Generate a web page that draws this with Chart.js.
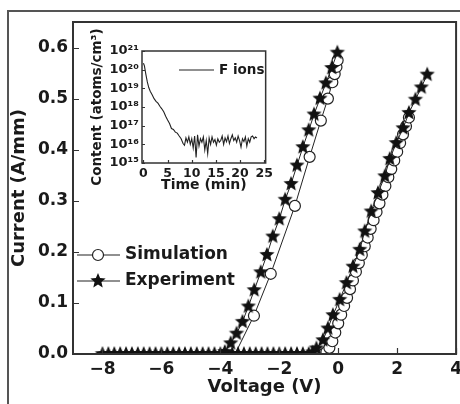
<!DOCTYPE html>
<html lang="en">
<head>
<meta charset="UTF-8">
<title>I-V curves with F ion profile</title>
<style>
  body { margin: 0; background: #fff; }
  #wrap { position: relative; width: 460px; height: 404px; overflow: hidden; }
  #main { position: absolute; left: 0; top: 0; }
  #inset { position: absolute; left: 86px; top: 20px; }
</style>
</head>
<body>
<div id="wrap">
  <canvas id="main" width="467" height="404"></canvas>
  <canvas id="inset" width="190" height="180"></canvas>
</div>
<script src="https://cdn.jsdelivr.net/npm/chart.js@4.4.1/dist/chart.umd.min.js"></script>
<script>
// main plot data (voltage in V, current in A/mm)
const expLeftV = [-8.0, -7.8, -7.6, -7.4, -7.2, -7.0, -6.8, -6.6, -6.4, -6.2, -6.0, -5.8, -5.6, -5.4, -5.2, -5.0, -4.8, -4.6, -4.4, -4.2, -4.0, -3.85,
  -3.65, -3.45, -3.25, -3.05, -2.85, -2.63, -2.42, -2.22, -2.0, -1.8, -1.6, -1.4, -1.2, -1.0, -0.82, -0.62, -0.42, -0.22, -0.03];
const expLeftI = [0, 0, 0, 0, 0, 0, 0, 0, 0, 0, 0, 0, 0, 0, 0, 0, 0, 0, 0, 0, 0, 0.004,
  0.021, 0.040, 0.063, 0.093, 0.125, 0.160, 0.194, 0.230, 0.264, 0.302, 0.333, 0.369, 0.405, 0.438, 0.469, 0.500, 0.530, 0.560, 0.590];

const expRightV = [-3.6, -3.4, -3.2, -3.0, -2.8, -2.6, -2.4, -2.2, -2.0, -1.8, -1.6, -1.4, -1.2, -1.0, -0.87,
  -0.74, -0.52, -0.35, -0.18, 0.05, 0.28, 0.50, 0.73, 0.90, 1.12, 1.35, 1.58, 1.75, 1.97, 2.20, 2.40, 2.62, 2.82, 3.02];
const expRightI = [0, 0, 0, 0, 0, 0, 0, 0, 0, 0, 0, 0, 0, 0, 0.003,
  0.011, 0.027, 0.050, 0.076, 0.106, 0.139, 0.171, 0.204, 0.240, 0.279, 0.315, 0.348, 0.382, 0.413, 0.442, 0.472, 0.498, 0.522, 0.547];

const simLeftV = [-3.5, -2.86, -2.29, -1.47, -0.97, -0.59, -0.35, -0.20, -0.12, -0.06, -0.02];
const simLeftI = [0, 0.075, 0.157, 0.290, 0.386, 0.457, 0.500, 0.532, 0.548, 0.562, 0.575];

const simRightV = [-0.5, -0.4, -0.3, -0.2, -0.1, 0.0, 0.1, 0.2, 0.3, 0.4, 0.5, 0.6, 0.7, 0.8, 0.9, 1.0, 1.1, 1.2, 1.3, 1.4,
  1.5, 1.6, 1.7, 1.8, 1.9, 2.0, 2.1, 2.2, 2.3, 2.4];
const simRightI = [0, 0.004, 0.012, 0.025, 0.042, 0.060, 0.077, 0.094, 0.110, 0.127, 0.144, 0.161, 0.178, 0.194, 0.211, 0.228,
  0.245, 0.262, 0.278, 0.295, 0.312, 0.329, 0.346, 0.362, 0.379, 0.396, 0.413, 0.430, 0.446, 0.463];

const xTicks = [-8, -6, -4, -2, 0, 2, 4];
const yTicks = [0, 0.1, 0.2, 0.3, 0.4, 0.5, 0.6];

// inset: F ion depth profile (time in min, content in atoms/cm3)
const fTime = [0, 0.2, 0.5, 0.8, 1.1, 1.4, 1.8, 2.2, 2.6, 3.0, 3.4, 3.8, 4.2, 4.6, 5.0, 5.4, 5.8, 6.2, 6.6, 7.0,
  7.4, 7.8, 8.2, 8.5, 8.8, 9.1, 9.4, 9.7, 10.0, 10.3, 10.6, 10.9, 11.2, 11.5, 11.8, 12.1, 12.4, 12.7, 13.0, 13.3,
  13.6, 13.9, 14.2, 14.5, 14.8, 15.1, 15.4, 15.7, 16.0, 16.3, 16.6, 16.9, 17.2, 17.5, 17.8, 18.1, 18.4, 18.7, 19.0, 19.3,
  19.6, 19.9, 20.2, 20.5, 20.8, 21.1, 21.4, 21.7, 22.0, 22.3, 22.6, 22.9, 23.2, 23.5];
const fContent = [2.2e20, 1.6e20, 5.6e19, 2.2e19, 1.1e19, 7e18, 4.5e18, 2.8e18, 2e18, 1.6e18, 1.1e18, 8e17, 5.6e17, 3.2e17, 2e17, 1.3e17, 7e16, 6.3e16, 4.5e16, 4e16,
  2.8e16, 2e16, 1.1e16, 9e15, 2.2e16, 1.3e16, 2.5e16, 1e16, 2e16, 6.3e15, 2.8e16, 2e15, 3.2e16, 8e15, 2e16, 1.3e16, 2.5e16, 5e15, 1.6e16, 3.2e15,
  2.2e16, 1e16, 2.5e16, 1.3e16, 1.8e16, 9e15, 2e16, 1.3e16, 1.6e16, 2.8e16, 1e16, 2.2e16, 1.4e16, 2.8e16, 1.1e16, 2e16, 3.2e16, 1.6e16, 2.2e16, 1.3e16,
  2.8e16, 1.6e16, 7e15, 2e16, 1.4e16, 2.5e16, 8e15, 2e16, 1.3e16, 2.5e16, 2.8e16, 2e16, 2.5e16, 2.2e16];

const insetXTicks = [0, 5, 10, 15, 20, 25];
const insetYTicks = [1e15, 1e16, 1e17, 1e18, 1e19, 1e20, 1e21];

const FONT = 'DejaVu Sans';
const INK = '#1a1a1a';
Chart.defaults.font.family = FONT;
Chart.defaults.font.weight = 'bold';
Chart.defaults.color = INK;

function pts(xs, ys) {
  return xs.map((x, k) => ({ x: x, y: ys[k] }));
}

// filled five-pointed star used as point marker
function makeStar(r) {
  var c = document.createElement('canvas');
  var s = Math.ceil(r * 2 + 2);
  c.width = s; c.height = s;
  var g = c.getContext('2d');
  g.fillStyle = '#111';
  g.beginPath();
  for (var k = 0; k < 10; k++) {
    var rad = k % 2 === 0 ? r : r * 0.45;
    var a = -Math.PI / 2 + k * Math.PI / 5;
    var px = s / 2 + rad * Math.cos(a), py = s / 2 + rad * Math.sin(a);
    if (k === 0) g.moveTo(px, py); else g.lineTo(px, py);
  }
  g.closePath();
  g.fill();
  return c;
}
const star = makeStar(8);

function simRadius(ctx) {
  return ctx.raw && ctx.raw.y === 0 ? 0 : 5.5;
}

// frame + inward ticks
function framePlugin(id, width, tickLen, xt, yt) {
  return {
    id: id,
    afterDraw(chart) {
      const { ctx, chartArea: a, scales } = chart;
      ctx.save();
      ctx.strokeStyle = '#333';
      ctx.lineWidth = width;
      ctx.strokeRect(a.left, a.top, a.right - a.left, a.bottom - a.top);
      ctx.lineWidth = 1.2;
      ctx.beginPath();
      xt.forEach(v => {
        const px = Math.round(scales.x.getPixelForValue(v)) + 0.5;
        ctx.moveTo(px, a.bottom); ctx.lineTo(px, a.bottom - tickLen);
      });
      yt.forEach(v => {
        const py = Math.round(scales.y.getPixelForValue(v)) + 0.5;
        ctx.moveTo(a.left, py); ctx.lineTo(a.left + tickLen, py);
      });
      ctx.stroke();
      ctx.restore();
    }
  };
}

const outerFrame = {
  id: 'outerFrame',
  beforeDraw(chart) {
    const ctx = chart.ctx;
    ctx.save();
    ctx.strokeStyle = '#555';
    ctx.lineWidth = 2;
    ctx.beginPath();
    ctx.moveTo(8, 404); ctx.lineTo(8, 11); ctx.lineTo(467, 11);
    ctx.stroke();
    ctx.restore();
  }
};

const mainLegend = {
  id: 'mainLegend',
  afterDraw(chart) {
    const { ctx, chartArea: a } = chart;
    const rows = [
      { label: chart.data.datasets[2].label, y: a.top + 233, mark: 'circle' },
      { label: chart.data.datasets[0].label, y: a.top + 259, mark: 'star' }
    ];
    ctx.save();
    rows.forEach(r => {
      ctx.strokeStyle = '#222';
      ctx.lineWidth = 1.2;
      ctx.beginPath();
      ctx.moveTo(a.left + 4, r.y); ctx.lineTo(a.left + 47, r.y);
      ctx.stroke();
      const cx = a.left + 25;
      if (r.mark === 'circle') {
        ctx.fillStyle = '#fff';
        ctx.beginPath();
        ctx.arc(cx, r.y, 5.5, 0, Math.PI * 2);
        ctx.fill(); ctx.stroke();
      } else {
        ctx.drawImage(star, cx - star.width / 2, r.y - star.height / 2);
      }
      ctx.fillStyle = INK;
      ctx.font = 'bold 17px ' + FONT;
      ctx.textBaseline = 'middle';
      ctx.textAlign = 'left';
      ctx.fillText(r.label, a.left + 52, r.y);
    });
    ctx.restore();
  }
};

new Chart(document.getElementById('main'), {
  type: 'line',
  data: {
    datasets: [
      { label: 'Experiment', data: pts(expLeftV, expLeftI), borderColor: '#222', borderWidth: 1,
        pointStyle: star, pointRadius: 8 },
      { label: 'Experiment ', data: pts(expRightV, expRightI), borderColor: '#222', borderWidth: 1,
        pointStyle: star, pointRadius: 8 },
      { label: 'Simulation', data: pts(simLeftV, simLeftI), borderColor: '#222', borderWidth: 1,
        pointStyle: 'circle', pointRadius: simRadius, pointBackgroundColor: '#fff',
        pointBorderColor: '#222', pointBorderWidth: 1.2 },
      { label: 'Simulation ', data: pts(simRightV, simRightI), borderColor: '#222', borderWidth: 1,
        pointStyle: 'circle', pointRadius: 5.5, pointBackgroundColor: '#fff',
        pointBorderColor: '#222', pointBorderWidth: 1.2 }
    ]
  },
  options: {
    responsive: false,
    animation: false,
    devicePixelRatio: 1,
    layout: { padding: { top: 22, right: 0, left: 0, bottom: 0 } },
    plugins: { legend: { display: false }, tooltip: { enabled: false } },
    elements: { line: { tension: 0 } },
    scales: {
      x: {
        type: 'linear', min: -9, max: 4,
        grid: { display: false, drawTicks: false },
        border: { display: false },
        afterBuildTicks: s => { s.ticks = xTicks.map(v => ({ value: v })); },
        afterFit: s => { s.height = 50; },
        ticks: { padding: 5, maxRotation: 0, autoSkip: false, font: { size: 17, weight: 'bold' },
          callback: v => v < 0 ? '\u2212' + Math.abs(v) : String(v) },
        title: { display: true, text: 'Voltage (V)', font: { size: 18, weight: 'bold' },
          padding: { top: 0, bottom: 6 } }
      },
      y: {
        min: 0, max: 0.65,
        grid: { display: false, drawTicks: false },
        border: { display: false },
        afterBuildTicks: s => { s.ticks = yTicks.map(v => ({ value: v })); },
        afterFit: s => { s.width = 73; },
        ticks: { padding: 5, font: { size: 17, weight: 'bold' }, callback: v => v.toFixed(1) },
        title: { display: true, text: 'Current (A/mm)', font: { size: 18, weight: 'bold' },
          padding: { top: 9, bottom: 0 } }
      }
    }
  },
  plugins: [outerFrame, framePlugin('mainFrame', 2, 6, xTicks, yTicks), mainLegend]
});

// inset
const SUP = { '0': '\u2070', '1': '\u00b9', '2': '\u00b2', '3': '\u00b3', '4': '\u2074',
  '5': '\u2075', '6': '\u2076', '7': '\u2077', '8': '\u2078', '9': '\u2079' };
function powLabel(v) {
  const e = String(Math.round(Math.log10(v)));
  return '10' + e.split('').map(d => SUP[d]).join('');
}

const insetLegend = {
  id: 'insetLegend',
  afterDraw(chart) {
    const { ctx, chartArea: a } = chart;
    const y = a.top + 19;
    ctx.save();
    ctx.strokeStyle = '#222';
    ctx.lineWidth = 1.2;
    ctx.beginPath();
    ctx.moveTo(a.left + 37, y); ctx.lineTo(a.left + 72, y);
    ctx.stroke();
    ctx.fillStyle = INK;
    ctx.font = 'bold 13.5px ' + FONT;
    ctx.textBaseline = 'middle';
    ctx.fillText(chart.data.datasets[0].label, a.left + 77, y);
    ctx.restore();
  }
};

new Chart(document.getElementById('inset'), {
  type: 'line',
  data: {
    datasets: [{ label: 'F ions', data: pts(fTime, fContent), borderColor: '#222', borderWidth: 1.1, pointRadius: 0 }]
  },
  options: {
    responsive: false,
    animation: false,
    devicePixelRatio: 1,
    layout: { padding: { top: 31, right: 8, left: 0, bottom: 0 } },
    plugins: { legend: { display: false }, tooltip: { enabled: false } },
    elements: { line: { tension: 0 } },
    scales: {
      x: {
        type: 'linear', min: -0.3, max: 25.3,
        grid: { display: false, drawTicks: false },
        border: { display: false },
        afterBuildTicks: s => { s.ticks = insetXTicks.map(v => ({ value: v })); },
        afterFit: s => { s.height = 37; },
        ticks: { padding: 3, maxRotation: 0, autoSkip: false, font: { size: 12.5, weight: 'bold' } },
        title: { display: true, text: 'Time (min)', font: { size: 14, weight: 'bold' },
          padding: { top: 0, bottom: 6 } }
      },
      y: {
        type: 'logarithmic', min: 1e15, max: 1e21,
        grid: { display: false, drawTicks: false },
        border: { display: false },
        afterBuildTicks: s => { s.ticks = insetYTicks.map(v => ({ value: v })); },
        afterFit: s => { s.width = 56; },
        ticks: { padding: 3, autoSkip: false, font: { size: 13, weight: 'bold' }, callback: v => powLabel(v) },
        title: { display: true, text: 'Content (atoms/cm\u00b3)', font: { size: 13.5, weight: 'bold' },
          padding: { top: 3, bottom: 0 } }
      }
    }
  },
  plugins: [framePlugin('insetFrame', 1.5, 3, insetXTicks, insetYTicks), insetLegend]
});
</script>
</body>
</html>
